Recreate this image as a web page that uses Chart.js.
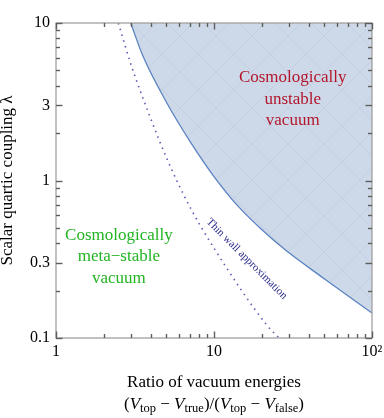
<!DOCTYPE html>
<html><head><meta charset="utf-8">
<script src="https://cdn.jsdelivr.net/npm/chart.js@4/dist/chart.umd.min.js"></script>
<style>html,body{margin:0;padding:0;background:#fff;}#wrap{width:384px;height:418px;}</style>
</head><body><div id="wrap"><canvas id="c" width="384" height="418"></canvas></div>
<script>
// Boundary of the cosmologically unstable region (solid curve)
const boundaryX = [2.97, 3.55, 5.01, 7.08, 10.0, 14.1, 19.95, 28.2, 50.1, 100];
const boundaryY = [10, 6.17, 3.13, 1.76, 1.06, 0.692, 0.490, 0.363, 0.237, 0.144];
// Thin wall approximation (dotted curve)
const thinWallX = [2.48, 2.97, 3.94, 5.14, 6.95, 9.9, 21.7, 25.8];
const thinWallY = [10, 5.52, 2.53, 1.31, 0.696, 0.378, 0.12, 0.1];
// Axis ticks
const xTicks = [1, 10, 100];
const xTickLabels = ['1', '10', '10\u00B2'];
const xMinor = [2, 3, 4, 5, 6, 7, 8, 9, 20, 30, 40, 50, 60, 70, 80, 90];
const yTicks = [0.1, 0.3, 1, 3, 10];
const yTickLabels = ['0.1', '0.3', '1', '3', '10'];
const yMinor = [0.2, 0.4, 0.5, 0.6, 0.7, 0.8, 0.9, 2, 4, 5, 6, 7, 8, 9];
// Texts
const unstableLines = ['Cosmologically', 'unstable', 'vacuum'];
const metaLines = ['Cosmologically', 'meta\u2212stable', 'vacuum'];
const thinWallText = 'Thin wall approximation';
const xTitle1 = 'Ratio of vacuum energies';
const yTitle = 'Scalar quartic coupling \u03BB';
// Annotation anchors (data coordinates)
const unstableAnchor = {x: 31.5, y: 3.28};
const metaAnchor = {x: 2.50, y: 0.327};
const thinWallAnchor = {x: 16.1, y: 0.318};

const SERIF = '"Liberation Serif", "Times New Roman", serif';

function makePattern() {
  const s = 36;
  const c = document.createElement('canvas');
  c.width = s; c.height = s;
  const g = c.getContext('2d');
  g.fillStyle = '#cdd9e8';
  g.fillRect(0, 0, s, s);
  g.strokeStyle = '#c1cde0';
  g.lineWidth = 0.8;
  for (const o of [-s, 0, s]) {
    g.beginPath(); g.moveTo(o, 0); g.lineTo(o + s, s); g.stroke();
    g.beginPath(); g.moveTo(o + s, 0); g.lineTo(o, s); g.stroke();
  }
  return g.createPattern(c, 'repeat');
}

const framePlugin = {
  id: 'frame',
  afterDraw(chart) {
    const ctx = chart.ctx;
    const {left, right, top, bottom} = chart.chartArea;
    const xs = chart.scales.x, ys = chart.scales.y;
    ctx.save();
    ctx.setLineDash([]);
    ctx.globalAlpha = 1;
    // frame
    ctx.strokeStyle = '#a0a0a0';
    ctx.lineWidth = 1.3;
    ctx.strokeRect(left, top, right - left, bottom - top);
    // ticks (drawn as thin rectangles)
    ctx.fillStyle = '#5e5e5e';
    const tickX = (v, len) => {
      const p = Math.round(xs.getPixelForValue(v));
      ctx.fillRect(p - 0.2, bottom - len, 1.4, len);
      ctx.fillRect(p - 0.2, top, 1.4, len);
    };
    const tickY = (v, len) => {
      const p = Math.round(ys.getPixelForValue(v));
      ctx.fillRect(left, p - 0.2, len, 1.4);
      ctx.fillRect(right - len, p - 0.2, len, 1.4);
    };
    xTicks.forEach(v => tickX(v, 6.5));
    xMinor.forEach(v => tickX(v, 4));
    yTicks.forEach(v => tickY(v, 6.5));
    yMinor.forEach(v => tickY(v, 4));

    // region labels
    ctx.textAlign = 'center';
    ctx.textBaseline = 'middle';
    ctx.font = '17px ' + SERIF;
    const lh = 21.5;
    ctx.fillStyle = '#b3162c';
    let cx = xs.getPixelForValue(unstableAnchor.x), cy = ys.getPixelForValue(unstableAnchor.y);
    unstableLines.forEach((t, i) => ctx.fillText(t, cx, cy + (i - 1) * lh));
    ctx.fillStyle = '#22b422';
    cx = xs.getPixelForValue(metaAnchor.x); cy = ys.getPixelForValue(metaAnchor.y);
    metaLines.forEach((t, i) => ctx.fillText(t, cx, cy + (i - 1) * lh));
    // thin wall label
    ctx.save();
    ctx.translate(xs.getPixelForValue(thinWallAnchor.x), ys.getPixelForValue(thinWallAnchor.y));
    ctx.rotate(Math.PI / 4);
    ctx.font = '11px ' + SERIF;
    ctx.fillStyle = '#2b2b8c';
    ctx.fillText(thinWallText, 0, 0);
    ctx.restore();

    // second line of x title with subscripts
    const segs = [
      {t: '('}, {t: 'V', it: true}, {t: 'top', sub: true}, {t: ' \u2212 '},
      {t: 'V', it: true}, {t: 'true', sub: true}, {t: ')/('},
      {t: 'V', it: true}, {t: 'top', sub: true}, {t: ' \u2212 '},
      {t: 'V', it: true}, {t: 'false', sub: true}, {t: ')'}
    ];
    const fontOf = s => (s.it ? 'italic ' : '') + (s.sub ? '12.5px ' : '17px ') + SERIF;
    let total = 0;
    segs.forEach(s => { ctx.font = fontOf(s); s.w = ctx.measureText(s.t).width; total += s.w; });
    let x = (left + right) / 2 - total / 2;
    const base = 408.5;
    ctx.textAlign = 'left';
    ctx.textBaseline = 'alphabetic';
    ctx.fillStyle = '#000';
    segs.forEach(s => {
      ctx.font = fontOf(s);
      ctx.fillText(s.t, x, s.sub ? base + 3.8 : base);
      x += s.w;
    });
    ctx.restore();
  }
};

const pattern = makePattern();

new Chart(document.getElementById('c'), {
  type: 'line',
  data: {
    datasets: [
      {
        data: boundaryX.map((x, i) => ({x, y: boundaryY[i]})),
        borderColor: '#5b83c2',
        borderWidth: 1.3,
        backgroundColor: pattern,
        fill: 'end',
        pointRadius: 0,
        cubicInterpolationMode: 'monotone'
      },
      {
        data: thinWallX.map((x, i) => ({x, y: thinWallY[i]})),
        borderColor: '#5a5ab4',
        borderWidth: 1.6,
        borderDash: [1.5, 4.5],
        fill: false,
        pointRadius: 0,
        cubicInterpolationMode: 'monotone'
      }
    ]
  },
  options: {
    responsive: false,
    animation: false,
    devicePixelRatio: 1,
    layout: {padding: {left: 0, right: 12, top: 23, bottom: 0}},
    plugins: {legend: {display: false}, tooltip: {enabled: false}},
    scales: {
      x: {
        type: 'logarithmic', min: 1, max: 100, position: 'bottom',
        grid: {display: false, drawTicks: false},
        border: {display: false},
        afterBuildTicks: s => { s.ticks = xTicks.map(v => ({value: v})); },
        afterFit: s => { s.height = 80; s.paddingLeft = 0; s.paddingRight = 0; },
        ticks: {
          autoSkip: false, maxRotation: 0, minRotation: 0, padding: 4,
          color: '#000', font: {family: SERIF, size: 16},
          callback: v => xTickLabels[xTicks.indexOf(v)]
        },
        title: {display: true, text: xTitle1, color: '#000',
          font: {family: SERIF, size: 17, lineHeight: 1.2}, padding: {top: 0, bottom: 25.3}}
      },
      y: {
        type: 'logarithmic', min: 0.1, max: 10,
        grid: {display: false, drawTicks: false},
        border: {display: false},
        afterBuildTicks: s => { s.ticks = yTicks.map(v => ({value: v})); },
        afterFit: s => { s.width = 56; s.paddingTop = 0; s.paddingBottom = 0; },
        ticks: {
          autoSkip: false, padding: 6,
          color: '#000', font: {family: SERIF, size: 16},
          callback: v => yTickLabels[yTicks.indexOf(v)]
        },
        title: {display: true, text: yTitle, color: '#000',
          font: {family: SERIF, size: 17, lineHeight: 0.9}, padding: 0}
      }
    }
  },
  plugins: [framePlugin]
});
</script>
</body></html>
